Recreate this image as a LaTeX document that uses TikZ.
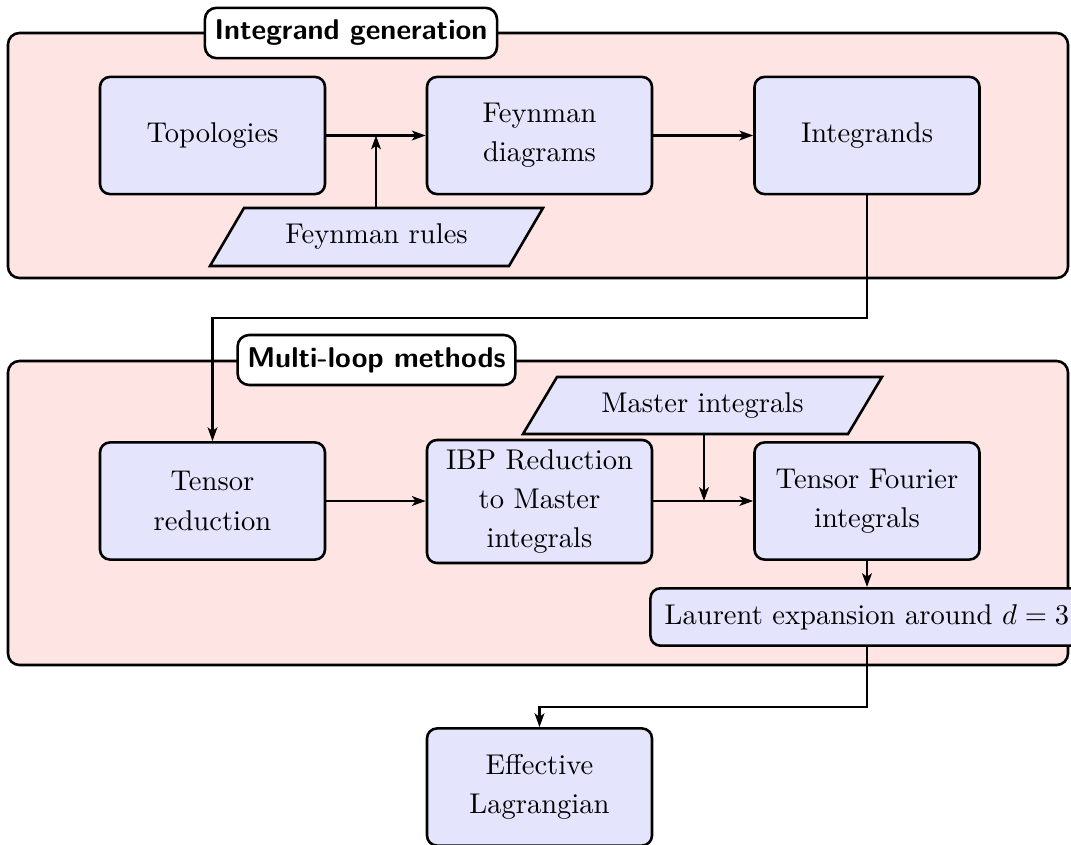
\documentclass[tikz,border=0pt]{standalone}
\usetikzlibrary{arrows.meta}
\definecolor{boxblue}{RGB}{228,228,252}
\definecolor{grouppink}{RGB}{255,228,228}
\begin{document}
\begin{tikzpicture}[x=0.35pt,y=-0.35pt,
  every node/.style={font=\fontsize{10}{13.7}\selectfont},
  proc/.style={draw, line width=0.9pt, rounded corners=3.5pt, fill=boxblue, minimum width=78.75pt, minimum height=41pt, align=center, inner sep=3.33pt},
  wide/.style={draw, line width=0.9pt, rounded corners=3.5pt, fill=boxblue, inner xsep=5pt, inner ysep=5.6pt},
  group/.style={draw, line width=0.9pt, rounded corners=4pt, fill=grouppink},
  title/.style={draw, line width=0.9pt, rounded corners=4pt, fill=white, font=\sffamily\bfseries, inner xsep=3.4pt, inner ysep=4.3pt},
  para/.style={draw, line width=0.9pt, fill=boxblue},
  plain/.style={inner sep=0pt},
  arr/.style={-{Stealth[length=4.8pt,width=3.4pt,inset=1.2pt]}, line width=0.8pt}]
\useasboundingbox (0,0) rectangle (1071,845);

% groups
\draw[group] (8,33) rectangle (1068,278);
\node[title] (t1) at (351,33) {Integrand generation};
\draw[group] (8,361) rectangle (1068,665);
\node[title] (t2) at (376.5,360) {Multi-loop methods};

% top row
\node[proc] (topo) at (212.5,135.5) {Topologies};
\node[proc] (feyn) at (539.5,135.5) {Feynman\\diagrams};
\node[proc] (integ) at (867,135.5) {Integrands};
\path[para] (210,266) -- (244,208) -- (543,208) -- (509,266) -- cycle;
\node[plain] (rules) at (376.5,237) {Feynman rules};
\coordinate (rulesTop) at (376,208);

% middle row
\path[para] (523,434) -- (557,377) -- (882,377) -- (848,434) -- cycle;
\node[plain] (master) at (702.5,405.5) {Master integrals};
\coordinate (masterBot) at (704,434);
\node[proc] (tred) at (212.5,501) {Tensor\\reduction};
\node[proc] (ibp) at (539.5,501.5) {IBP Reduction\\to Master\\integrals};
\node[proc] (tfour) at (867,501) {Tensor Fourier\\integrals};
\node[wide] (laurent) at (867,617) {Laurent expansion around $d=3$};

% bottom
\node[proc] (eff) at (539.5,787) {Effective\\Lagrangian};

% connectors
\coordinate (bendA) at (0,318);
\coordinate (bendB) at (0,707);
\draw[arr] (topo.east) -- (feyn.west);
\draw[arr] (rulesTop) -- (rulesTop |- topo.east);
\draw[arr] (feyn.east) -- (integ.west);
\draw[arr] (integ.south) -- (integ.south |- bendA) -| (tred.north);
\draw[arr] (tred.east) -- (tred.east -| ibp.west);
\draw[arr] (ibp.east |- tfour.west) -- (tfour.west);
\draw[arr] (masterBot) -- (masterBot |- tfour.west);
\draw[arr] (tfour.south) -- (laurent.north);
\draw[arr] (laurent.south) -- (laurent.south |- bendB) -| (eff.north);
\end{tikzpicture}
\end{document}
